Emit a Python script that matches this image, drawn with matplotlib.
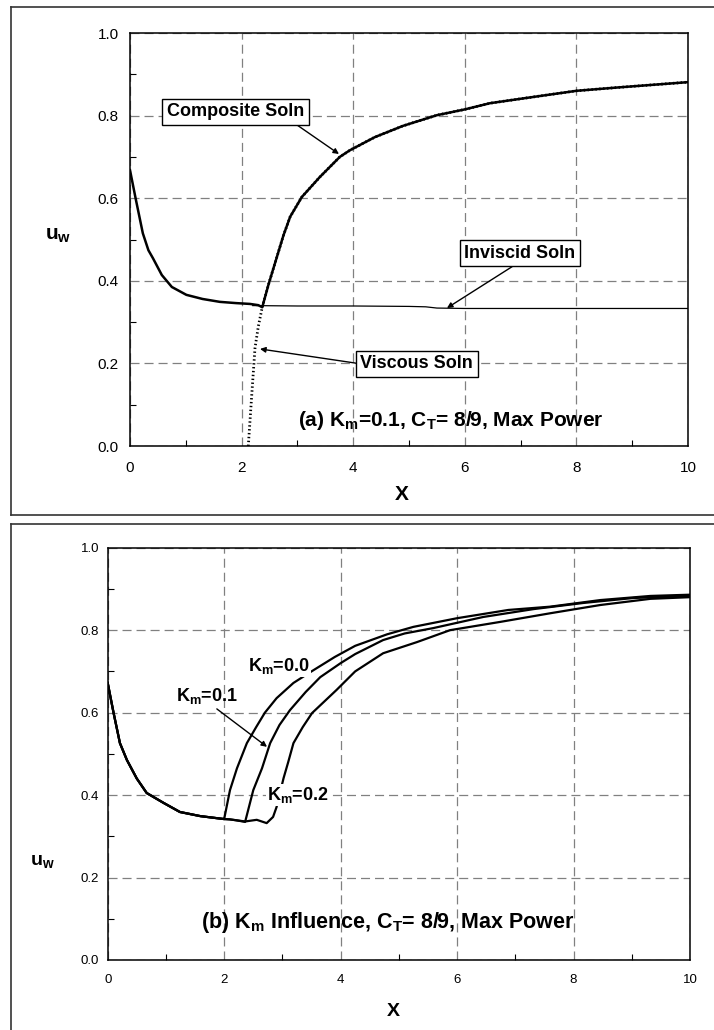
import matplotlib
matplotlib.use("Agg")
import matplotlib.pyplot as plt
from matplotlib.lines import Line2D
from matplotlib.ticker import MultipleLocator

plt.rcParams['font.family'] = ['Liberation Sans', 'DejaVu Sans']
plt.rcParams['mathtext.fontset'] = 'custom'
plt.rcParams['mathtext.rm'] = 'Liberation Sans:bold'
plt.rcParams['mathtext.bf'] = 'Liberation Sans:bold'
plt.rcParams['mathtext.it'] = 'Liberation Sans:bold'
plt.rcParams['mathtext.default'] = 'bf'
plt.rcParams['lines.scale_dashes'] = False

# ---------------- data: panel (a) ----------------
comp_x = [0.0, 0.1, 0.23, 0.33, 0.41, 0.57, 0.75, 1.01, 1.3, 1.61, 1.9, 2.15, 2.3, 2.37,
          2.48, 2.57, 2.66, 2.75, 2.87, 3.08, 3.4, 3.76, 3.94, 4.39, 4.89, 5.5, 6.0, 6.45,
          7.22, 8.0, 8.73, 10.0]
comp_u = [0.668, 0.6, 0.515, 0.474, 0.455, 0.414, 0.385, 0.366, 0.356, 0.349, 0.346, 0.344,
          0.341, 0.336, 0.39, 0.43, 0.47, 0.51, 0.555, 0.603, 0.651, 0.70, 0.716, 0.748,
          0.775, 0.801, 0.815, 0.83, 0.845, 0.86, 0.868, 0.881]

visc_x = [2.12, 2.18, 2.24, 2.30, 2.37, 2.48, 2.57, 2.66, 2.75, 2.87, 3.08, 3.4, 3.76, 3.94,
          4.39, 4.89, 5.5, 6.0, 6.45, 7.22, 8.0, 8.73, 10.0]
visc_u = [0.0, 0.12, 0.237, 0.29, 0.336, 0.39, 0.43, 0.47, 0.51, 0.555, 0.603, 0.651, 0.70,
          0.716, 0.748, 0.775, 0.801, 0.815, 0.83, 0.845, 0.86, 0.868, 0.881]

invi_x = [2.2, 3.0, 4.0, 5.0, 5.3, 5.5, 6.0, 8.0, 10.0]
invi_u = [0.340, 0.339, 0.339, 0.338, 0.337, 0.334, 0.333, 0.333, 0.333]

# ---------------- data: panel (b) ----------------
base_x = [0.0, 0.1, 0.21, 0.33, 0.5, 0.67, 0.96, 1.24, 1.59, 1.99]
base_u = [0.672, 0.6, 0.526, 0.485, 0.44, 0.405, 0.381, 0.359, 0.349, 0.342]

km0_x = [2.0, 2.1, 2.22, 2.39, 2.55, 2.7, 2.9, 3.19, 3.5, 3.9, 4.25, 4.8, 5.25, 6.0, 6.88,
         7.6, 8.46, 9.32, 10.0]
km0_u = [0.342, 0.412, 0.465, 0.526, 0.565, 0.60, 0.635, 0.672, 0.700, 0.735, 0.762, 0.79,
         0.808, 0.829, 0.849, 0.857, 0.873, 0.883, 0.886]

km1_x = [2.1, 2.2, 2.36, 2.5, 2.65, 2.79, 2.95, 3.13, 3.4, 3.65, 4.0, 4.25, 4.73, 5.1, 5.59,
         6.45, 7.31, 8.17, 9.03, 10.0]
km1_u = [0.341, 0.339, 0.335, 0.412, 0.465, 0.526, 0.57, 0.606, 0.65, 0.686, 0.72, 0.742,
         0.776, 0.792, 0.805, 0.832, 0.851, 0.866, 0.878, 0.883]

km2_x = [2.1, 2.36, 2.56, 2.73, 2.84, 2.9, 3.02, 3.1, 3.19, 3.35, 3.51, 3.93, 4.25, 4.73,
         5.31, 5.88, 6.74, 7.6, 8.46, 9.32, 10.0]
km2_u = [0.341, 0.336, 0.340, 0.332, 0.347, 0.371, 0.441, 0.48, 0.526, 0.565, 0.599, 0.655,
         0.70, 0.744, 0.771, 0.80, 0.82, 0.841, 0.861, 0.876, 0.88]

x_ticks = [0, 2, 4, 6, 8, 10]
y_ticks = [0.0, 0.2, 0.4, 0.6, 0.8, 1.0]

W, H = 714, 1030
fig = plt.figure(figsize=(W / 100, H / 100), dpi=100)


def fx(px):
    return px / W


def fy(py):
    return 1 - py / H


def style_axes(ax, tick_fs, xpad, ypad):
    ax.set_xlim(0, 10)
    ax.set_ylim(0, 1.0)
    ax.set_xticks(x_ticks)
    ax.set_yticks(y_ticks)
    ax.set_xticklabels([str(t) for t in x_ticks])
    ax.set_yticklabels([f"{t:.1f}" for t in y_ticks])
    ax.xaxis.set_minor_locator(MultipleLocator(1))
    ax.yaxis.set_minor_locator(MultipleLocator(0.1))
    ax.tick_params(which='major', direction='in', length=0, labelsize=tick_fs)
    ax.tick_params(axis='x', which='major', pad=xpad)
    ax.tick_params(axis='y', which='major', pad=ypad)
    ax.tick_params(which='minor', direction='in', length=4, width=0.8)
    ax.grid(True, which='major', color='#808080', linestyle=(0, (6.5, 3.6)), linewidth=0.9)
    for s in ax.spines.values():
        s.set_linewidth(1.1)
        s.set_color('black')
    ax.set_axisbelow(True)


box = dict(boxstyle='square,pad=0.25', fc='white', ec='black', lw=1.0)
arr = dict(arrowstyle='-|>', color='black', lw=1.0, mutation_scale=8, shrinkA=0, shrinkB=0)

# ---------------- panel (a) ----------------
ax1 = fig.add_axes([fx(130), fy(446), (688 - 130) / W, (446 - 33) / H])
style_axes(ax1, 11, 11, 8)
ax1.plot(invi_x, invi_u, color='black', lw=0.9)
ax1.plot(visc_x, visc_u, color='black', lw=2.0, linestyle=(0, (1, 1.8)))
ax1.plot(comp_x, comp_u, color='black', lw=1.8)

ax1.annotate('Composite Soln', xy=(3.745, 0.707), xytext=(1.89, 0.809), fontsize=13,
             fontweight='bold', ha='center', va='center', bbox=box,
             arrowprops=dict(arr, relpos=(0.9, 0.0)))
ax1.annotate('Inviscid Soln', xy=(5.68, 0.334), xytext=(6.99, 0.467), fontsize=13,
             fontweight='bold', ha='center', va='center', bbox=box,
             arrowprops=dict(arr, relpos=(0.5, 0.0)))
ax1.annotate('Viscous Soln', xy=(2.33, 0.235), xytext=(5.14, 0.199), fontsize=13,
             fontweight='bold', ha='center', va='center', bbox=box,
             arrowprops=dict(arr, relpos=(0.0, 0.5)))
ax1.text(5.75, 0.061, '(a) K$_{m}$=0.1, C$_{T}$= 8/9, Max Power', fontsize=15,
         fontweight='bold', ha='center', va='center')

fig.text(fx(402), fy(495), 'X', fontsize=15, fontweight='bold', ha='center', va='center')
fig.text(fx(58), fy(235), 'u$_{w}$', fontsize=15, fontweight='bold', ha='center', va='center')

# ---------------- panel (b) ----------------
ax2 = fig.add_axes([fx(107.7), fy(960), (690 - 107.7) / W, (960 - 547.7) / H])
style_axes(ax2, 9.5, 10, 6)
for kx, ku in [(km0_x, km0_u), (km1_x, km1_u), (km2_x, km2_u)]:
    ax2.plot(base_x + kx, base_u + ku, color='black', lw=1.6)

wbox = dict(boxstyle='square,pad=0.05', fc='white', ec='none')
ax2.text(2.94, 0.713, 'K$_{m}$=0.0', fontsize=13, fontweight='bold', ha='center',
         va='center', bbox=wbox)
ax2.annotate('K$_{m}$=0.1', xy=(2.736, 0.517), xytext=(1.705, 0.640), fontsize=13,
             fontweight='bold', ha='center', va='center',
             arrowprops=dict(arr, relpos=(0.6, 0.0)))
ax2.text(3.27, 0.40, 'K$_{m}$=0.2', fontsize=13, fontweight='bold', ha='center',
         va='center', bbox=wbox)
ax2.text(4.815, 0.092, '(b) K$_{m}$ Influence, C$_{T}$= 8/9, Max Power', fontsize=15.5,
         fontweight='bold', ha='center', va='center')

fig.text(fx(393), fy(1012), 'X', fontsize=14, fontweight='bold', ha='center', va='center')
fig.text(fx(42), fy(862), 'u$_{w}$', fontsize=14, fontweight='bold', ha='center', va='center')

# ---------------- outer frames ----------------
fc = '#333333'
flw = 1.2
for xs, ys in [([11.5, 714], [6.5, 6.5]), ([11.5, 11.5], [6.5, 515]), ([11.5, 714], [515, 515]),
               ([11.5, 714], [524, 524]), ([11.5, 11.5], [524, 1030])]:
    fig.add_artist(Line2D([fx(v) for v in xs], [fy(v) for v in ys], color=fc, lw=flw,
                          transform=fig.transFigure))

fig.savefig('out.png', dpi=100)
